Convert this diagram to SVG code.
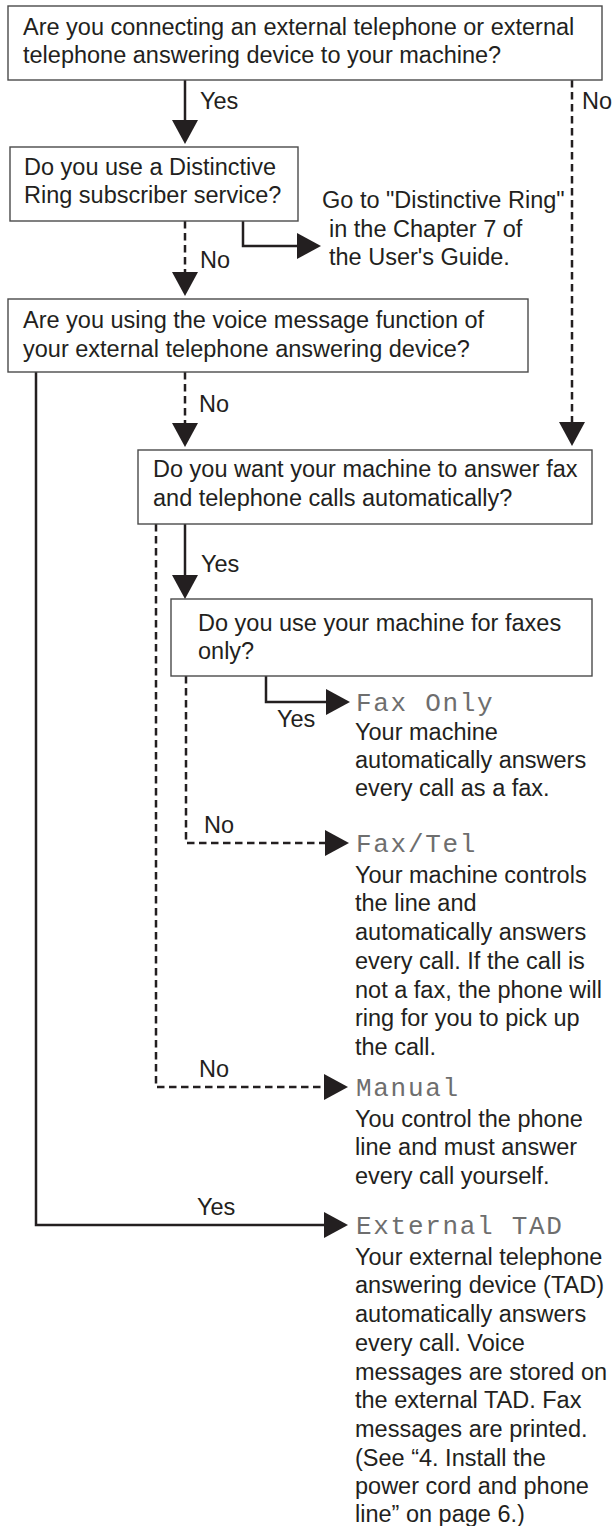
<svg xmlns="http://www.w3.org/2000/svg" width="613" height="1526" viewBox="0 0 613 1526">
<style>
  .box { fill: #fff; stroke: #4a4a4a; stroke-width: 1.4; }
  .t { font-family: "Liberation Sans", Arial, sans-serif; font-size: 23.5px; fill: #231f20; }
  .lcd { font-family: "Liberation Mono", "DejaVu Sans Mono", monospace; font-size: 26px; letter-spacing: 1.7px; fill: #6e6e6e; }
  .solid { fill: none; stroke: #231f20; stroke-width: 2.5; }
  .dash { fill: none; stroke: #231f20; stroke-width: 2.5; stroke-dasharray: 7.5 4.5; }
  .head { fill: #231f20; }
</style>
<rect width="613" height="1526" fill="#fff"/>

<g id="connectors">
  <path class="solid" d="M185 80 V123"/>
  <polygon class="head" points="172,120 198,120 185,144"/>
  <path class="dash" d="M572 80 V425"/>
  <polygon class="head" points="559,422 585,422 572,446"/>
  <path class="solid" d="M243 221 V246 H300"/>
  <polygon class="head" points="297,233 297,259 321,246"/>
  <path class="dash" d="M185 221 V275"/>
  <polygon class="head" points="172,272 198,272 185,296"/>
  <path class="dash" d="M185 372 V426"/>
  <polygon class="head" points="172,423 198,423 185,447"/>
  <path class="solid" d="M36 372 V1225 H327"/>
  <polygon class="head" points="324,1212 324,1238 348,1225"/>
  <path class="solid" d="M185 524 V579"/>
  <polygon class="head" points="172,575 198,575 185,599"/>
  <path class="dash" d="M156 524 V1087 H327"/>
  <polygon class="head" points="324,1074 324,1100 348,1087"/>
  <path class="solid" d="M266 676 V702 H329"/>
  <polygon class="head" points="326,689 326,715 350,702"/>
  <path class="dash" d="M186 676 V843 H328"/>
  <polygon class="head" points="325,830 325,856 349,843"/>

  <text class="t" x="200" y="109">Yes</text>
  <text class="t" x="582" y="109">No</text>
  <text class="t" x="200" y="268">No</text>
  <text class="t" x="199" y="412">No</text>
  <text class="t" x="201" y="572">Yes</text>
  <text class="t" x="277" y="727">Yes</text>
  <text class="t" x="204" y="833">No</text>
  <text class="t" x="199" y="1077">No</text>
  <text class="t" x="197" y="1215">Yes</text>
</g>

<g id="q1">
  <rect class="box" x="8" y="6" width="594" height="74"/>
  <text class="t" x="23" y="35">Are you connecting an external telephone or external</text>
  <text class="t" x="23" y="63">telephone answering device to your machine?</text>
</g>

<g id="q2">
  <rect class="box" x="10" y="147" width="288" height="74"/>
  <text class="t" x="24" y="175">Do you use a Distinctive</text>
  <text class="t" x="24" y="203">Ring subscriber service?</text>
</g>

<g id="goto">
  <text class="t" x="322" y="208">Go to "Distinctive Ring"</text>
  <text class="t" x="329" y="237">in the Chapter 7 of</text>
  <text class="t" x="329" y="265">the User's Guide.</text>
</g>

<g id="q3">
  <rect class="box" x="8" y="299" width="520" height="73"/>
  <text class="t" x="23" y="328">Are you using the voice message function of</text>
  <text class="t" x="23" y="357">your external telephone answering device?</text>
</g>

<g id="q4">
  <rect class="box" x="138" y="450" width="454" height="74"/>
  <text class="t" x="153" y="477">Do you want your machine to answer fax</text>
  <text class="t" x="153" y="506">and telephone calls automatically?</text>
</g>

<g id="q5">
  <rect class="box" x="171" y="599" width="421" height="77"/>
  <text class="t" x="198" y="631">Do you use your machine for faxes</text>
  <text class="t" x="198" y="659">only?</text>
</g>

<g id="fax-only">
  <text class="lcd" x="356" y="711">Fax Only</text>
  <text class="t" x="355" y="740">Your machine</text>
  <text class="t" x="355" y="768">automatically answers</text>
  <text class="t" x="355" y="796">every call as a fax.</text>
</g>

<g id="fax-tel">
  <text class="lcd" x="356" y="852">Fax/Tel</text>
  <text class="t" x="355" y="883">Your machine controls</text>
  <text class="t" x="355" y="911">the line and</text>
  <text class="t" x="355" y="940">automatically answers</text>
  <text class="t" x="355" y="969">every call. If the call is</text>
  <text class="t" x="355" y="998">not a fax, the phone will</text>
  <text class="t" x="355" y="1026">ring for you to pick up</text>
  <text class="t" x="355" y="1055">the call.</text>
</g>

<g id="manual">
  <text class="lcd" x="356" y="1096">Manual</text>
  <text class="t" x="355" y="1127">You control the phone</text>
  <text class="t" x="355" y="1155">line and must answer</text>
  <text class="t" x="355" y="1184">every call yourself.</text>
</g>

<g id="external-tad">
  <text class="lcd" x="356" y="1234">External TAD</text>
  <text class="t" x="355" y="1265">Your external telephone</text>
  <text class="t" x="355" y="1293">answering device (TAD)</text>
  <text class="t" x="355" y="1322">automatically answers</text>
  <text class="t" x="355" y="1351">every call. Voice</text>
  <text class="t" x="355" y="1380">messages are stored on</text>
  <text class="t" x="355" y="1408">the external TAD. Fax</text>
  <text class="t" x="355" y="1437">messages are printed.</text>
  <text class="t" x="355" y="1466">(See “4. Install the</text>
  <text class="t" x="355" y="1494">power cord and phone</text>
  <text class="t" x="355" y="1522">line” on page 6.)</text>
</g>
</svg>
